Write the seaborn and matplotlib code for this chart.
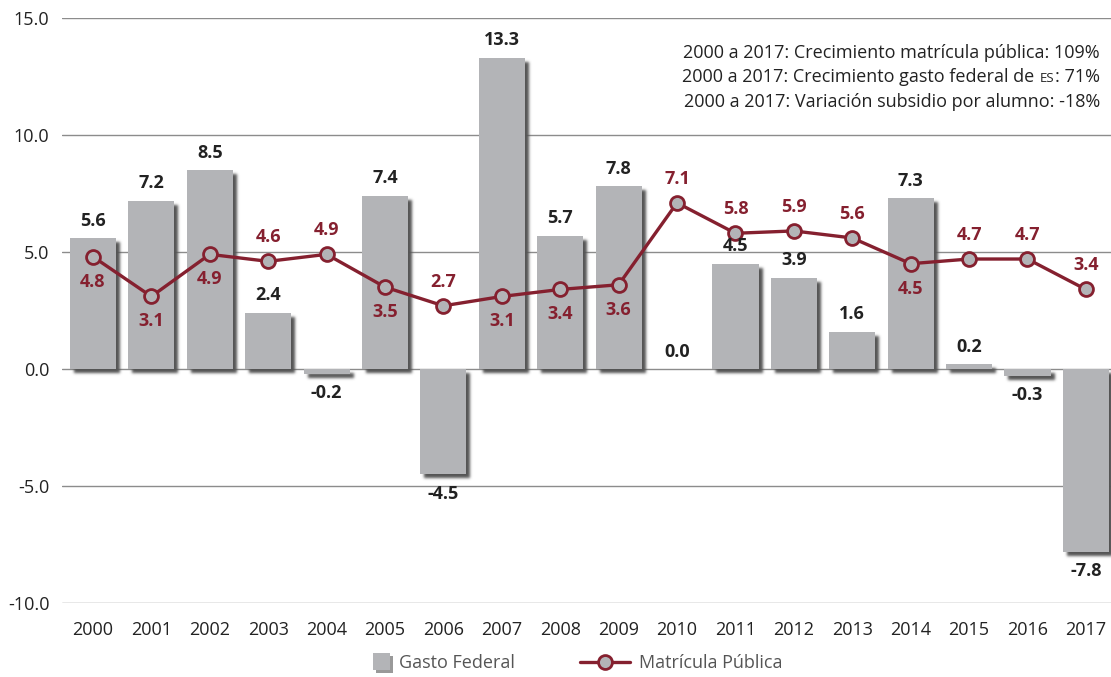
import numpy as np
import pandas as pd
import matplotlib
matplotlib.use("Agg")
import matplotlib.pyplot as plt
import matplotlib.patheffects as pe
from matplotlib.patches import Rectangle
from matplotlib.lines import Line2D
from matplotlib.legend_handler import HandlerPatch
import seaborn as sns

# --- datos ---
anios = ["2000", "2001", "2002", "2003", "2004", "2005", "2006", "2007", "2008",
         "2009", "2010", "2011", "2012", "2013", "2014", "2015", "2016", "2017"]
gasto_federal = [5.6, 7.2, 8.5, 2.4, -0.2, 7.4, -4.5, 13.3, 5.7,
                 7.8, 0.0, 4.5, 3.9, 1.6, 7.3, 0.2, -0.3, -7.8]
matricula_publica = [4.8, 3.1, 4.9, 4.6, 4.9, 3.5, 2.7, 3.1, 3.4,
                     3.6, 7.1, 5.8, 5.9, 5.6, 4.5, 4.7, 4.7, 3.4]
# etiqueta de la matrícula arriba (True) o abajo (False) del punto
etiqueta_arriba = [False, False, False, True, True, False, True, False, False,
                   False, True, True, True, True, False, True, True, True]
yticks = [-10, -5, 0, 5, 10, 15]
notas = [
    ("2000 a 2017: Crecimiento matrícula pública: 109%", None, None),
    ("2000 a 2017: Crecimiento gasto federal de", "ES", ": 71%"),
    ("2000 a 2017: Variación subsidio por alumno: -18%", None, None),
]

# --- estilo ---
GRIS = "#b3b4b7"
ROJO = "#85202f"
TEXTO = "#222222"
FS = 13

sns.set_theme(style="white")
plt.rcParams["font.family"] = ["Open Sans", "DejaVu Sans"]
plt.rcParams["axes.unicode_minus"] = False


def _blur1d(a, k, axis):
    return np.apply_along_axis(lambda m: np.convolve(m, k, mode="same"), axis, a)


def sombra_difusa(im, dpi, dx=4, dy=4, sigma=1.4, color=(0.33, 0.33, 0.33), alpha=1.0):
    """Filtro agg: sombra desenfocada y desplazada (dx a la derecha, dy hacia abajo)."""
    pad = 10
    a = np.pad(im[..., 3], pad)
    r = int(3 * sigma) + 1
    x = np.arange(-r, r + 1)
    k = np.exp(-x ** 2 / (2 * sigma ** 2))
    k /= k.sum()
    a = _blur1d(_blur1d(a, k, 0), k, 1)
    a = np.roll(np.roll(a, dx, axis=1), dy, axis=0)
    out = np.zeros(a.shape + (4,), dtype=im.dtype)
    out[..., 0], out[..., 1], out[..., 2] = color
    out[..., 3] = np.clip(a * alpha, 0, 1)
    return out, -pad, -pad


W, H = 1111, 677
fig = plt.figure(figsize=(W / 100, H / 100), dpi=100)
ax = fig.add_axes([62 / W, 1 - 603 / H, 1 - 62 / W, (603 - 18) / H])

df = pd.DataFrame({"anio": anios, "gasto": gasto_federal, "matricula": matricula_publica})

sns.barplot(data=df, x="anio", y="gasto", color=GRIS, saturation=1, width=0.79,
            ax=ax, zorder=2)
for p in list(ax.patches):
    p.set_edgecolor("none")
    s = Rectangle(p.get_xy(), p.get_width(), p.get_height(), facecolor="k",
                  edgecolor="none", zorder=1.9)
    s.set_agg_filter(sombra_difusa)
    s.set_rasterized(True)
    ax.add_artist(s)

pos = np.arange(len(anios))
sns.lineplot(x=pos, y=df["matricula"], color=ROJO, linewidth=2.4, marker="o",
             markersize=10, markerfacecolor=GRIS, markeredgecolor=ROJO,
             markeredgewidth=2.0, ax=ax, zorder=4)

# etiquetas de las barras
for i, v in enumerate(gasto_federal):
    dy = 12.5 if v >= 0 else -14
    ax.annotate(f"{v:.1f}", (i, v), xytext=(0, dy), textcoords="offset points",
                ha="center", va="center", fontsize=FS, fontweight="bold",
                color=TEXTO, zorder=5)

# etiquetas de la matrícula
for i, (v, arriba) in enumerate(zip(matricula_publica, etiqueta_arriba)):
    dy = 17.5 if arriba else -18
    ax.annotate(f"{v:.1f}", (i, v), xytext=(0, dy), textcoords="offset points",
                ha="center", va="center", fontsize=FS, fontweight="bold",
                color=ROJO, zorder=5)

# ejes
ax.set_xlim(-0.53, len(anios) - 1 + 0.43)
ax.set_ylim(-10, 15)
ax.set_yticks(yticks)
ax.set_yticklabels([f"{t:.1f}" for t in yticks])
ax.yaxis.grid(True, color="#8c8c8c", linewidth=1.0)
ax.xaxis.grid(False)
ax.set_axisbelow(True)
for s in ax.spines.values():
    s.set_visible(False)
ax.tick_params(axis="y", length=0, pad=9, labelsize=FS, labelcolor=TEXTO)
ax.tick_params(axis="x", length=0, pad=13, labelsize=FS, labelcolor=TEXTO)
ax.set_xlabel("")
ax.set_ylabel("")


# leyenda
def cuadro(legend, orig_handle, xdescent, ydescent, width, height, fontsize):
    s = height * 1.3
    return Rectangle((width - s - xdescent, (height - s) / 2 - ydescent), s, s)


h_bar = Rectangle((0, 0), 1, 1, facecolor=GRIS, edgecolor="none",
                  path_effects=[pe.SimplePatchShadow(offset=(2, -2), shadow_rgbFace="#555555",
                                                     alpha=0.6), pe.Normal()])
h_lin = Line2D([], [], color=ROJO, linewidth=2.4, marker="o", markersize=10,
               markerfacecolor=GRIS, markeredgecolor=ROJO, markeredgewidth=2.0)
leg = fig.legend([h_bar, h_lin], ["Gasto Federal", "Matrícula Pública"],
                 handler_map={Rectangle: HandlerPatch(patch_func=cuadro)},
                 loc="center", bbox_to_anchor=(0.505, 1 - 663 / H), ncol=2,
                 frameon=False, fontsize=FS, handlelength=2.8, handletextpad=0.5,
                 columnspacing=3.6)
for t in leg.get_texts():
    t.set_color("#555555")

# notas (arriba a la derecha)
fig.canvas.draw()
r = fig.canvas.get_renderer()
x_der = 1100 / W
bases = [58, 82.5, 107]
for (txt, chico, cola), yb in zip(notas, bases):
    y = 1 - yb / H
    if chico is None:
        fig.text(x_der, y, txt, ha="right", va="baseline", fontsize=FS, color=TEXTO)
    else:
        t3 = fig.text(x_der, y, cola, ha="right", va="baseline", fontsize=FS, color=TEXTO)
        w3 = t3.get_window_extent(r).width / fig.bbox.width
        t2 = fig.text(x_der - w3 - 1 / W, y, chico, ha="right", va="baseline",
                      fontsize=9.5, color=TEXTO)
        w2 = t2.get_window_extent(r).width / fig.bbox.width
        fig.text(x_der - w3 - w2 - 6 / W, y, txt, ha="right", va="baseline",
                 fontsize=FS, color=TEXTO)

fig.savefig("out.png", dpi=100)
